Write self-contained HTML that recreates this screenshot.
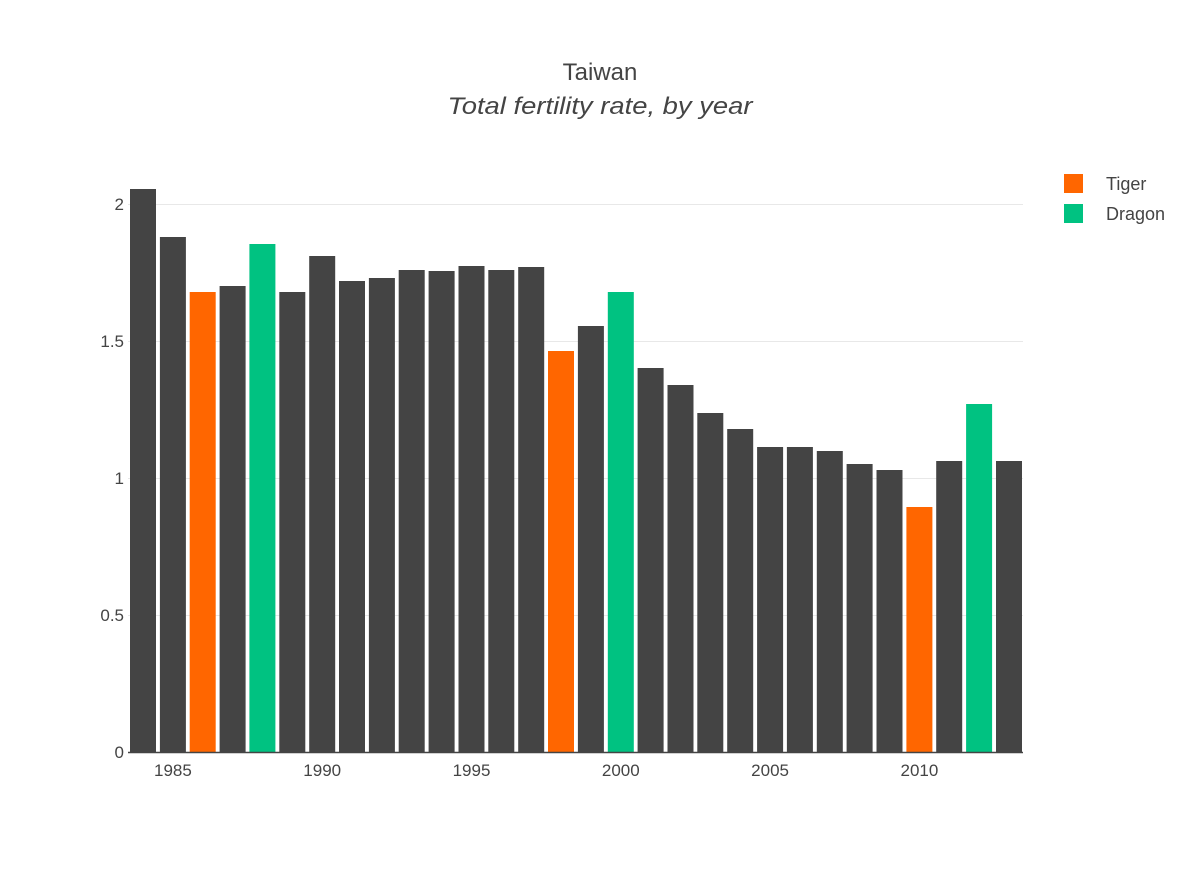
<!DOCTYPE html>
<html><head><meta charset="utf-8"><style>
html,body{margin:0;padding:0;background:#fff;}
svg{display:block;font-family:"Liberation Sans",sans-serif;}
</style></head><body>
<svg width="1200" height="880" viewBox="0 0 1200 880" xmlns="http://www.w3.org/2000/svg">
<rect width="1200" height="880" fill="#fff"/>
<g stroke="#e8e8e8" stroke-width="1">
<line x1="128" x2="1023" y1="204.5" y2="204.5"/>
<line x1="128" x2="1023" y1="341.5" y2="341.5"/>
<line x1="128" x2="1023" y1="478.5" y2="478.5"/>
<line x1="128" x2="1023" y1="615.5" y2="615.5"/>
</g>
<g fill="#444">
<rect x="130" y="189" width="26" height="563"/>
<rect x="159.9" y="237" width="26" height="515"/>
<rect x="219.6" y="286" width="26" height="466"/>
<rect x="279.3" y="292" width="26" height="460"/>
<rect x="309.2" y="256" width="26" height="496"/>
<rect x="339" y="281" width="26" height="471"/>
<rect x="368.9" y="278" width="26" height="474"/>
<rect x="398.7" y="270" width="26" height="482"/>
<rect x="428.6" y="271" width="26" height="481"/>
<rect x="458.5" y="266" width="26" height="486"/>
<rect x="488.3" y="270" width="26" height="482"/>
<rect x="518.2" y="267" width="26" height="485"/>
<rect x="577.9" y="326" width="26" height="426"/>
<rect x="637.6" y="368" width="26" height="384"/>
<rect x="667.5" y="385" width="26" height="367"/>
<rect x="697.3" y="413" width="26" height="339"/>
<rect x="727.2" y="429" width="26" height="323"/>
<rect x="757.1" y="447" width="26" height="305"/>
<rect x="786.9" y="447" width="26" height="305"/>
<rect x="816.8" y="451" width="26" height="301"/>
<rect x="846.6" y="464" width="26" height="288"/>
<rect x="876.5" y="470" width="26" height="282"/>
<rect x="936.2" y="461" width="26" height="291"/>
<rect x="996" y="461" width="26" height="291"/>
</g>
<g fill="#ff6600">
<rect x="189.7" y="292" width="26" height="460"/>
<rect x="548" y="351" width="26" height="401"/>
<rect x="906.4" y="507" width="26" height="245"/>
</g>
<g fill="#00c281">
<rect x="249.4" y="244" width="26" height="508"/>
<rect x="607.8" y="292" width="26" height="460"/>
<rect x="966.1" y="404" width="26" height="348"/>
</g>
<line x1="128" x2="1023" y1="752.5" y2="752.5" stroke="#444" stroke-width="1.5"/>
<g fill="#444" font-size="17" text-anchor="end">
<text x="124" y="210">2</text>
<text x="124" y="347">1.5</text>
<text x="124" y="484">1</text>
<text x="124" y="621">0.5</text>
<text x="124" y="758">0</text>
</g>
<g fill="#444" font-size="17" text-anchor="middle">
<text x="172.9" y="776">1985</text>
<text x="322.2" y="776">1990</text>
<text x="471.5" y="776">1995</text>
<text x="620.8" y="776">2000</text>
<text x="770.1" y="776">2005</text>
<text x="919.4" y="776">2010</text>
</g>
<text x="600" y="80" fill="#444" font-size="24" text-anchor="middle">Taiwan</text>
<text x="600" y="114" fill="#444" font-size="24" font-style="italic" text-anchor="middle" textLength="305" lengthAdjust="spacingAndGlyphs">Total fertility rate, by year</text>
<rect x="1064" y="174" width="19" height="19" fill="#ff6600"/>
<rect x="1064" y="204" width="19" height="19" fill="#00c281"/>
<g fill="#444" font-size="18">
<text x="1106" y="190">Tiger</text>
<text x="1106" y="220">Dragon</text>
</g>
</svg>
</body></html>
